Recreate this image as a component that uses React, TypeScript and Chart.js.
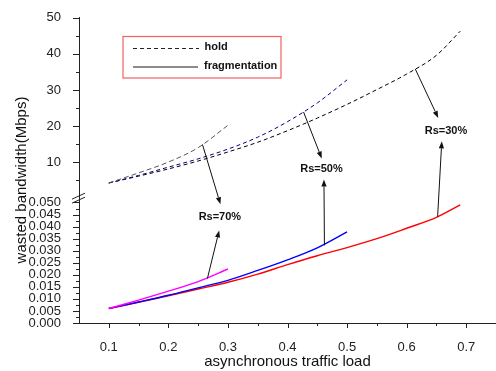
import React, { useEffect, useRef } from 'react';
import { Chart, registerables } from 'chart.js';

Chart.register(...registerables);

// ---- data ----
const xRs70 = [0.1, 0.15, 0.2, 0.25, 0.3];
const xRs50 = [0.1, 0.15, 0.2, 0.25, 0.3, 0.35, 0.4, 0.45, 0.5];
const xRs30 = [0.1, 0.15, 0.2, 0.25, 0.3, 0.35, 0.4, 0.45, 0.5, 0.55, 0.6, 0.65, 0.69];

const hold70 = [4.2, 7.0, 10.0, 14.0, 20.2];
const hold50 = [4.2, 6.3, 8.6, 10.9, 13.6, 16.9, 21.2, 26.4, 32.8];
const hold30 = [4.2, 6.1, 8.1, 10.3, 12.8, 15.5, 18.7, 22.2, 26.0, 30.1, 34.4, 39.6, 46.3];

const frag70 = [0.006, 0.0095, 0.0132, 0.0172, 0.0224];
const frag50 = [0.006, 0.0087, 0.0115, 0.0146, 0.0177, 0.0218, 0.0262, 0.0312, 0.0378];
const frag30 = [0.006, 0.0086, 0.0113, 0.0141, 0.0169, 0.0203, 0.0242, 0.0279, 0.0313, 0.035, 0.0393, 0.0438, 0.049];

// ---- ticks ----
const xMajorTicks = [0.1, 0.2, 0.3, 0.4, 0.5, 0.6, 0.7];
const xMinorTicks = [0.15, 0.25, 0.35, 0.45, 0.55, 0.65, 0.75];
const lowMajorTicks = [0, 0.005, 0.01, 0.015, 0.02, 0.025, 0.03, 0.035, 0.04, 0.045, 0.05];
const lowMinorTicks = [0.0025, 0.0075, 0.0125, 0.0175, 0.0225, 0.0275, 0.0325, 0.0375, 0.0425, 0.0475];
const upMajorTicks = [10, 20, 30, 40, 50];
const upMinorTicks = [5, 15, 25, 35, 45];

// ---- annotations (data coordinates) ----
const rsLabels = [
  { text: 'Rs=70%', x: 0.2865, y: 0.0441, axis: 'yLow' },
  { text: 'Rs=50%', x: 0.457, y: 8.05, axis: 'yUp' },
  { text: 'Rs=30%', x: 0.666, y: 18.6, axis: 'yUp' },
];
const rsArrows = [
  { x1: 0.2572, y1: 14.9, a1: 'yUp', x2: 0.2874, y2: 0.0493, a2: 'yLow' },
  { x1: 0.2656, y1: 0.0185, a1: 'yLow', x2: 0.2853, y2: 0.0384, a2: 'yLow' },
  { x1: 0.4269, y1: 23.9, a1: 'yUp', x2: 0.4575, y2: 11.0, a2: 'yUp' },
  { x1: 0.462, y1: 0.0322, a1: 'yLow', x2: 0.4612, y2: 5.14, a2: 'yUp' },
  { x1: 0.6145, y1: 35.8, a1: 'yUp', x2: 0.653, y2: 22.25, a2: 'yUp' },
  { x1: 0.652, y1: 0.0441, a1: 'yLow', x2: 0.659, y2: 15.75, a2: 'yUp' },
];

const FONT = '"Liberation Sans", Arial, Helvetica, sans-serif';
const AXIS_COLOR = '#222';

const pts = (xs: number[], ys: number[]) => xs.map((x, i) => ({ x, y: ys[i] }));

const decorPlugin = {
  id: 'decor',
  afterDraw(chart: any) {
    const ctx = chart.ctx as CanvasRenderingContext2D;
    const xs = chart.scales.x;
    const yl = chart.scales.yLow;
    const yu = chart.scales.yUp;
    const ca = chart.chartArea;
    ctx.save();
    ctx.strokeStyle = AXIS_COLOR;
    ctx.lineWidth = 1;
    // x ticks
    const xTick = (v: number, len: number) => {
      const px = Math.round(xs.getPixelForValue(v)) + 0.5;
      ctx.beginPath();
      ctx.moveTo(px, ca.bottom);
      ctx.lineTo(px, ca.bottom + len);
      ctx.stroke();
    };
    xMajorTicks.forEach((v) => xTick(v, 5));
    xMinorTicks.forEach((v) => xTick(v, 3));
    // y ticks
    const yTick = (sc: any, v: number, len: number) => {
      const py = Math.round(sc.getPixelForValue(v)) + 0.5;
      ctx.beginPath();
      ctx.moveTo(ca.left - len, py);
      ctx.lineTo(ca.left, py);
      ctx.stroke();
    };
    lowMajorTicks.forEach((v) => yTick(yl, v, 6));
    lowMinorTicks.forEach((v) => yTick(yl, v, 3));
    upMajorTicks.forEach((v) => yTick(yu, v, 6));
    upMinorTicks.forEach((v) => yTick(yu, v, 3));

    // axis break marks
    const by = yu.bottom;
    ctx.beginPath();
    ctx.moveTo(ca.left - 7, by + 1);
    ctx.lineTo(ca.left + 6, by - 5);
    ctx.moveTo(ca.left - 7, by + 5);
    ctx.lineTo(ca.left + 6, by - 1);
    ctx.stroke();

    // axis titles
    ctx.fillStyle = '#111';
    ctx.font = `15px ${FONT}`;
    ctx.textAlign = 'center';
    ctx.textBaseline = 'middle';
    ctx.fillText('asynchronous traffic load', (ca.left + ca.right) / 2, 362);
    ctx.save();
    ctx.translate(22, 180);
    ctx.rotate(-Math.PI / 2);
    ctx.fillText('wasted bandwidth(Mbps)', 0, 0);
    ctx.restore();

    // legend
    ctx.strokeStyle = '#f46060';
    ctx.lineWidth = 1.2;
    ctx.strokeRect(123, 36.5, 158, 41.5);
    ctx.lineWidth = 1;
    ctx.strokeStyle = '#222';
    ctx.setLineDash([4, 3]);
    ctx.beginPath();
    ctx.moveTo(133, 48.5);
    ctx.lineTo(199, 48.5);
    ctx.stroke();
    ctx.setLineDash([]);
    ctx.strokeStyle = '#666';
    ctx.lineWidth = 1.5;
    ctx.beginPath();
    ctx.moveTo(133, 67);
    ctx.lineTo(198, 67);
    ctx.stroke();
    ctx.fillStyle = '#111';
    ctx.font = `bold 11px ${FONT}`;
    ctx.textAlign = 'left';
    ctx.fillText('hold', 204.5, 46.5);
    ctx.fillText('fragmentation', 204, 66);

    // Rs annotations
    ctx.textAlign = 'center';
    rsLabels.forEach((l) => {
      const sc = chart.scales[l.axis];
      ctx.fillText(l.text, xs.getPixelForValue(l.x), sc.getPixelForValue(l.y));
    });
    ctx.strokeStyle = '#111';
    ctx.fillStyle = '#111';
    ctx.lineWidth = 1;
    rsArrows.forEach((a) => {
      const x1 = xs.getPixelForValue(a.x1);
      const y1 = chart.scales[a.a1].getPixelForValue(a.y1);
      const x2 = xs.getPixelForValue(a.x2);
      const y2 = chart.scales[a.a2].getPixelForValue(a.y2);
      const ang = Math.atan2(y2 - y1, x2 - x1);
      const hl = 7;
      const hw = 2.6;
      const bx = x2 - hl * Math.cos(ang);
      const by2 = y2 - hl * Math.sin(ang);
      ctx.beginPath();
      ctx.moveTo(x1, y1);
      ctx.lineTo(bx, by2);
      ctx.stroke();
      ctx.beginPath();
      ctx.moveTo(x2, y2);
      ctx.lineTo(bx + hw * Math.sin(ang), by2 - hw * Math.cos(ang));
      ctx.lineTo(bx - hw * Math.sin(ang), by2 + hw * Math.cos(ang));
      ctx.closePath();
      ctx.fill();
    });
    ctx.restore();
  },
};

export default function App() {
  const ref = useRef<HTMLCanvasElement | null>(null);
  useEffect(() => {
    if (!ref.current) return;
    const tickFont = { family: FONT, size: 13 };
    const lineDs = (data: any, axis: string, color: string, width: number, dash: number[]) => ({
      data,
      yAxisID: axis,
      borderColor: color,
      backgroundColor: color,
      borderWidth: width,
      borderDash: dash,
      pointRadius: 0,
      fill: false,
      cubicInterpolationMode: 'monotone',
    });
    const chart = new Chart(ref.current, {
      type: 'line',
      data: {
        datasets: [
          lineDs(pts(xRs70, frag70), 'yLow', '#ff00ff', 1.4, []),
          lineDs(pts(xRs50, frag50), 'yLow', '#0000ff', 1.4, []),
          lineDs(pts(xRs30, frag30), 'yLow', '#ff0000', 1.4, []),
          lineDs(pts(xRs70, hold70), 'yUp', '#555555', 1, [5, 3]),
          lineDs(pts(xRs50, hold50), 'yUp', '#000080', 1, [4, 3]),
          lineDs(pts(xRs30, hold30), 'yUp', '#000000', 1, [4, 3]),
        ] as any,
      },
      options: {
        animation: false,
        responsive: false,
        events: [],
        layout: { padding: { top: 15, left: 0, right: 0, bottom: 0 } },
        plugins: { legend: { display: false }, tooltip: { enabled: false } },
        scales: {
          x: {
            type: 'linear',
            min: 0.05,
            max: 0.75,
            grid: { display: false },
            border: { display: true, color: AXIS_COLOR, width: 1 },
            ticks: {
              font: tickFont,
              color: '#222',
              padding: 9,
              autoSkip: false,
              maxRotation: 0,
              callback: (v: any) => Number(v).toFixed(1),
            },
            afterBuildTicks: (s: any) => {
              s.ticks = xMajorTicks.map((v) => ({ value: v }));
            },
            afterFit: (s: any) => {
              s.height = 48;
            },
          },
          yLow: {
            type: 'linear',
            position: 'left',
            stack: 'y',
            stackWeight: 126,
            min: 0,
            max: 0.0518,
            grid: { display: false },
            border: { display: true, color: AXIS_COLOR, width: 1 },
            ticks: {
              font: tickFont,
              color: '#222',
              padding: 10,
              autoSkip: false,
              callback: (v: any) => Number(v).toFixed(3),
            },
            afterBuildTicks: (s: any) => {
              s.ticks = lowMajorTicks.map((v) => ({ value: v }));
            },
            afterFit: (s: any) => {
              s.width = 79;
            },
          },
          yUp: {
            type: 'linear',
            position: 'left',
            stack: 'y',
            stackWeight: 182,
            min: 0,
            max: 50,
            grid: { display: false },
            border: { display: true, color: AXIS_COLOR, width: 1 },
            ticks: {
              font: tickFont,
              color: '#222',
              padding: 10,
              autoSkip: false,
              callback: (v: any) => String(Math.round(Number(v))),
            },
            afterBuildTicks: (s: any) => {
              s.ticks = upMajorTicks.map((v) => ({ value: v }));
            },
            afterFit: (s: any) => {
              s.width = 79;
            },
          },
        } as any,
      },
      plugins: [decorPlugin],
    });
    return () => chart.destroy();
  }, []);
  return (
    <div style={{ position: 'absolute', left: 0, top: 0, width: 496, height: 371, background: '#fff' }}>
      <canvas ref={ref} width={496} height={371} style={{ display: 'block' }} />
    </div>
  );
}
